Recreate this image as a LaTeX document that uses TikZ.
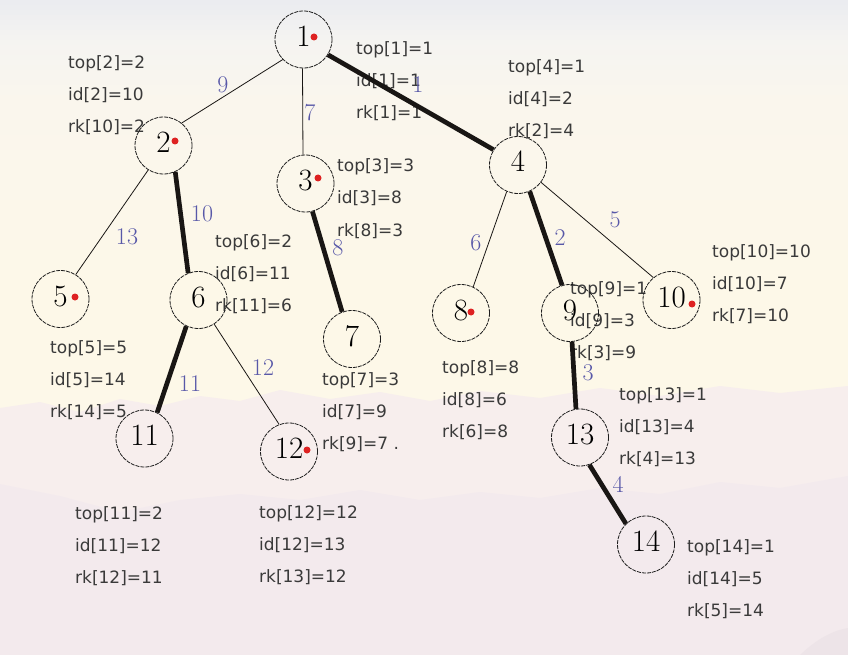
\documentclass[tikz,border=0pt]{standalone}
\usepackage{fontspec}
\newfontfamily\annotfont{DejaVu Sans}
\definecolor{labelblue}{RGB}{88,88,168}
\definecolor{annotgray}{RGB}{58,58,58}
\definecolor{dotred}{RGB}{222,34,34}
\definecolor{edgeblack}{RGB}{25,22,20}
\definecolor{circlegray}{RGB}{30,30,30}
\definecolor{bgtop}{RGB}{234,236,240}
\definecolor{bgtoptwo}{RGB}{245,244,241}
\definecolor{bgcreamthree}{RGB}{250,246,237}
\definecolor{bgcream}{RGB}{253,248,232}
\definecolor{bgcreamtwo}{RGB}{252,247,234}
\definecolor{mountone}{RGB}{247,238,237}
\definecolor{mounttwo}{RGB}{243,234,237}
\definecolor{mountthree}{RGB}{237,228,232}
\newcommand{\infoblk}[6]{%
  \node[annot] (#1a) at (#2,#3) {#4};
  \node[annot] (#1b) at (#2,#3+32) {#5};
  \node[annot] (#1c) at (#2,#3+64) {#6};}
\begin{document}
\begin{tikzpicture}[x=1pt,y=-1pt,
  vertex/.style={circle, draw=circlegray, dash pattern=on 4pt off 1pt, line width=0.8pt,
    minimum size=57pt, inner sep=0pt, font=\fontsize{31}{31}\selectfont,
    text height=20pt, text depth=6pt},
  thinedge/.style={line width=0.8pt, draw=edgeblack},
  heavyedge/.style={line width=4.7pt, draw=edgeblack},
  wlabel/.style={text=labelblue, font=\fontsize{24}{24}\selectfont, inner sep=0pt},
  annot/.style={text=annotgray, font=\annotfont\fontsize{17}{17}\selectfont, anchor=base west, inner sep=0pt},
  reddot/.style={circle, fill=dotred, minimum size=7pt, inner sep=0pt}]
\useasboundingbox (0,0) rectangle (848,655);
% background gradient in strips
\foreach \ya/\yb/\ca/\cb in {0/40/bgtop/bgtoptwo, 40/100/bgtoptwo/bgcreamthree, 100/300/bgcreamthree/bgcream, 300/655/bgcream/bgcreamtwo}{
  \pgfmathtruncatemacro{\nn}{(\yb-\ya)/5}
  \foreach \k in {1,...,\nn}{
    \pgfmathsetmacro{\yy}{\ya+(\k-1)*5}
    \pgfmathtruncatemacro{\pp}{100*(\k-0.5)/\nn}
    \fill[fill=\cb!\pp!\ca] (0,\yy) rectangle (848,\yy+5.4);
  }
}
\fill[mountone] (0,408) -- (40,402) -- (80,412) -- (120,399) -- (160,406) -- (200,396) -- (240,401)
  -- (280,390) -- (330,399) -- (380,392) -- (430,401) -- (480,391) -- (540,398) -- (600,388)
  -- (660,396) -- (720,386) -- (780,393) -- (848,386) -- (848,655) -- (0,655) -- cycle;
\fill[mounttwo] (0,484) -- (60,496) -- (120,512) -- (180,500) -- (240,494) -- (300,500) -- (360,490)
  -- (420,500) -- (480,492) -- (540,498) -- (600,488) -- (660,494) -- (720,482) -- (780,488)
  -- (848,476) -- (848,655) -- (0,655) -- cycle;
\fill[mountthree] (800,655) .. controls (820,636) and (836,630) .. (848,628) -- (848,655) -- cycle;
% annotations
\infoblk{a1}{356}{55}{top[1]=1}{id[1]=1}{rk[1]=1}
\infoblk{a2}{68}{69}{top[2]=2}{id[2]=10}{rk[10]=2}
\infoblk{a3}{337}{172}{top[3]=3}{id[3]=8}{rk[8]=3}
\infoblk{a4}{508}{73}{top[4]=1}{id[4]=2}{rk[2]=4}
\infoblk{a5}{50}{353}{top[5]=5}{id[5]=14}{rk[14]=5}
\infoblk{a6}{215}{247}{top[6]=2}{id[6]=11}{rk[11]=6}
\infoblk{a7}{322}{385}{top[7]=3}{id[7]=9}{rk[9]=7 .}
\infoblk{a8}{442}{373}{top[8]=8}{id[8]=6}{rk[6]=8}
\infoblk{a9}{570}{294}{top[9]=1}{id[9]=3}{rk[3]=9}
\infoblk{a10}{712}{257}{top[10]=10}{id[10]=7}{rk[7]=10}
\infoblk{a11}{75}{519}{top[11]=2}{id[11]=12}{rk[12]=11}
\infoblk{a12}{259}{518}{top[12]=12}{id[12]=13}{rk[13]=12}
\infoblk{a13}{619}{400}{top[13]=1}{id[13]=4}{rk[4]=13}
\infoblk{a14}{687}{552}{top[14]=1}{id[14]=5}{rk[5]=14}
% vertices
\node[vertex] (n1) at (303.5,39.5) {1};
\node[vertex] (n2) at (163.5,145.5) {2};
\node[vertex] (n3) at (305.5,183.5) {3};
\node[vertex] (n4) at (518,165) {4};
\node[vertex] (n5) at (60.5,299) {5};
\node[vertex] (n6) at (198.5,300) {6};
\node[vertex] (n7) at (352,339) {7};
\node[vertex] (n8) at (461,313) {8};
\node[vertex] (n9) at (570,313) {9};
\node[vertex] (n10) at (671.5,300) {10};
\node[vertex] (n11) at (144.5,438.5) {11};
\node[vertex] (n12) at (289,451.5) {12};
\node[vertex] (n13) at (580,437.5) {13};
\node[vertex] (n14) at (646,544.5) {14};
% edges
\draw[thinedge] (n1.224) -- (n2.51);
\draw[thinedge] (n1.-92) -- (n3.95);
\draw[heavyedge] (n1.-32) -- (n4.148);
\draw[thinedge] (n2.238) -- (n5.58);
\draw[heavyedge] (n2.-66) -- (n6.111);
\draw[heavyedge] (n3.-76) -- (n7.110);
\draw[thinedge] (n4.247) -- (n8.65);
\draw[heavyedge] (n4.-66) -- (n9.106);
\draw[thinedge] (n4.-37) -- (n10.129);
\draw[heavyedge] (n6.-115) -- (n11.64);
\draw[thinedge] (n6.-57) -- (n12.110);
\draw[heavyedge] (n9.-86) -- (n13.98);
\draw[heavyedge] (n13.-71) -- (n14.134);
% red dots
\node[reddot] (d1) at (314,37) {};
\node[reddot] (d2) at (175,141) {};
\node[reddot] (d3) at (318,178) {};
\node[reddot] (d5) at (75,297) {};
\node[reddot] (d8) at (471,312) {};
\node[reddot] (d10) at (692,304) {};
\node[reddot] (d12) at (307,450) {};
% edge weights
\node[wlabel] (w12) at (223,85) {9};
\node[wlabel] (w13) at (310,113) {7};
\node[wlabel] (w14) at (418,85) {1};
\node[wlabel] (w25) at (127,237) {13};
\node[wlabel] (w26) at (202,214) {10};
\node[wlabel] (w37) at (338,248) {8};
\node[wlabel] (w48) at (476,243) {6};
\node[wlabel] (w49) at (560,238) {2};
\node[wlabel] (w410) at (615,220) {5};
\node[wlabel] (w611) at (190,384) {11};
\node[wlabel] (w612) at (263,368) {12};
\node[wlabel] (w913) at (588,373) {3};
\node[wlabel] (w1314) at (618,484) {4};
\end{tikzpicture}
\end{document}
